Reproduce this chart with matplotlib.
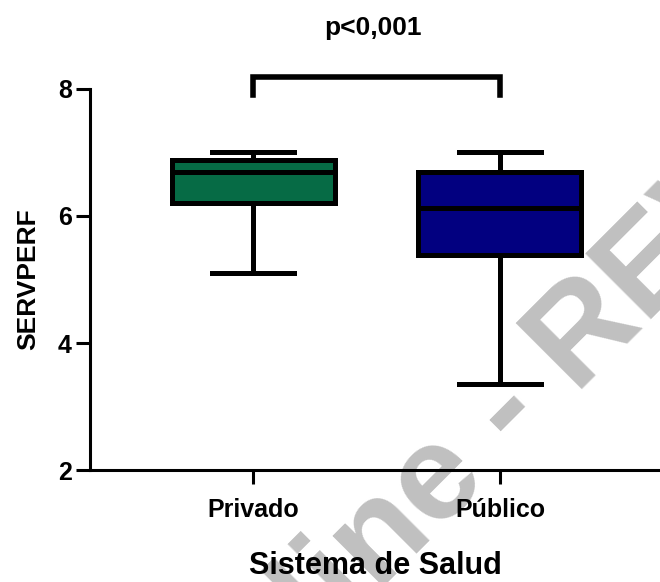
import matplotlib.pyplot as plt
import numpy as np

plt.rcParams['font.family'] = ['Liberation Sans', 'DejaVu Sans']
plt.rcParams['font.weight'] = 'bold'

# datos (resumen de cada caja)
grupos = ['Privado', 'Público']
minimo = [5.10, 3.35]
q1 = [6.21, 5.39]
mediana = [6.70, 6.13]
q3 = [6.88, 6.69]
maximo = [7.00, 7.00]
colores = ['#066B45', '#020080']
p_texto = 'p<0,001'

stats = []
for i in range(len(grupos)):
    stats.append(dict(label=grupos[i], whislo=minimo[i], q1=q1[i], med=mediana[i],
                      q3=q3[i], whishi=maximo[i], fliers=[]))

fig = plt.figure(figsize=(6.6, 5.82), dpi=100)
ax = fig.add_axes([0.1364, 0.1924, 0.8636, 0.6547])
ax.patch.set_alpha(0)

lw = 3.6
bp = ax.bxp(stats, positions=[1, 2], widths=0.66, patch_artist=True, showfliers=False,
            capwidths=0.33,
            boxprops=dict(linewidth=lw, edgecolor='black'),
            medianprops=dict(color='black', linewidth=lw),
            whiskerprops=dict(color='black', linewidth=lw),
            capprops=dict(color='black', linewidth=lw))
for caja, c in zip(bp['boxes'], colores):
    caja.set_facecolor(c)

ax.set_ylim(2, 8)
ax.set_xlim(0.34, 2.648)
ax.set_yticks([2, 4, 6, 8])
ax.set_xticks([1, 2])
ax.set_xticklabels(grupos)
ax.spines['top'].set_visible(False)
ax.spines['right'].set_visible(False)
ax.spines['left'].set_linewidth(2.2)
ax.spines['bottom'].set_linewidth(2.2)
ax.tick_params(axis='both', width=2.2, length=10)
ax.tick_params(axis='y', labelsize=18, pad=3)
ax.tick_params(axis='x', labelsize=18, pad=10)
ax.set_ylabel('SERVPERF', fontsize=19, fontweight='bold', labelpad=13)
ax.set_xlabel('Sistema de Salud', fontsize=22, fontweight='bold', labelpad=21)

# corchete de significancia
ax.plot([1, 1, 2, 2], [7.9, 8.19, 8.19, 7.9], color='black', linewidth=4,
        clip_on=False, solid_joinstyle='miter')
fig.text(0.565, 0.952, p_texto, ha='center', va='center', fontsize=19, fontweight='bold')

# marca de agua
fig.text(190 / 660, 1 - 780 / 582, 'Online - REVIEW', rotation=45, rotation_mode='anchor',
         ha='left', va='baseline', fontsize=98, fontweight='bold',
         color='#C0C0C0', zorder=-1)

fig.savefig('out.png', dpi=100)
